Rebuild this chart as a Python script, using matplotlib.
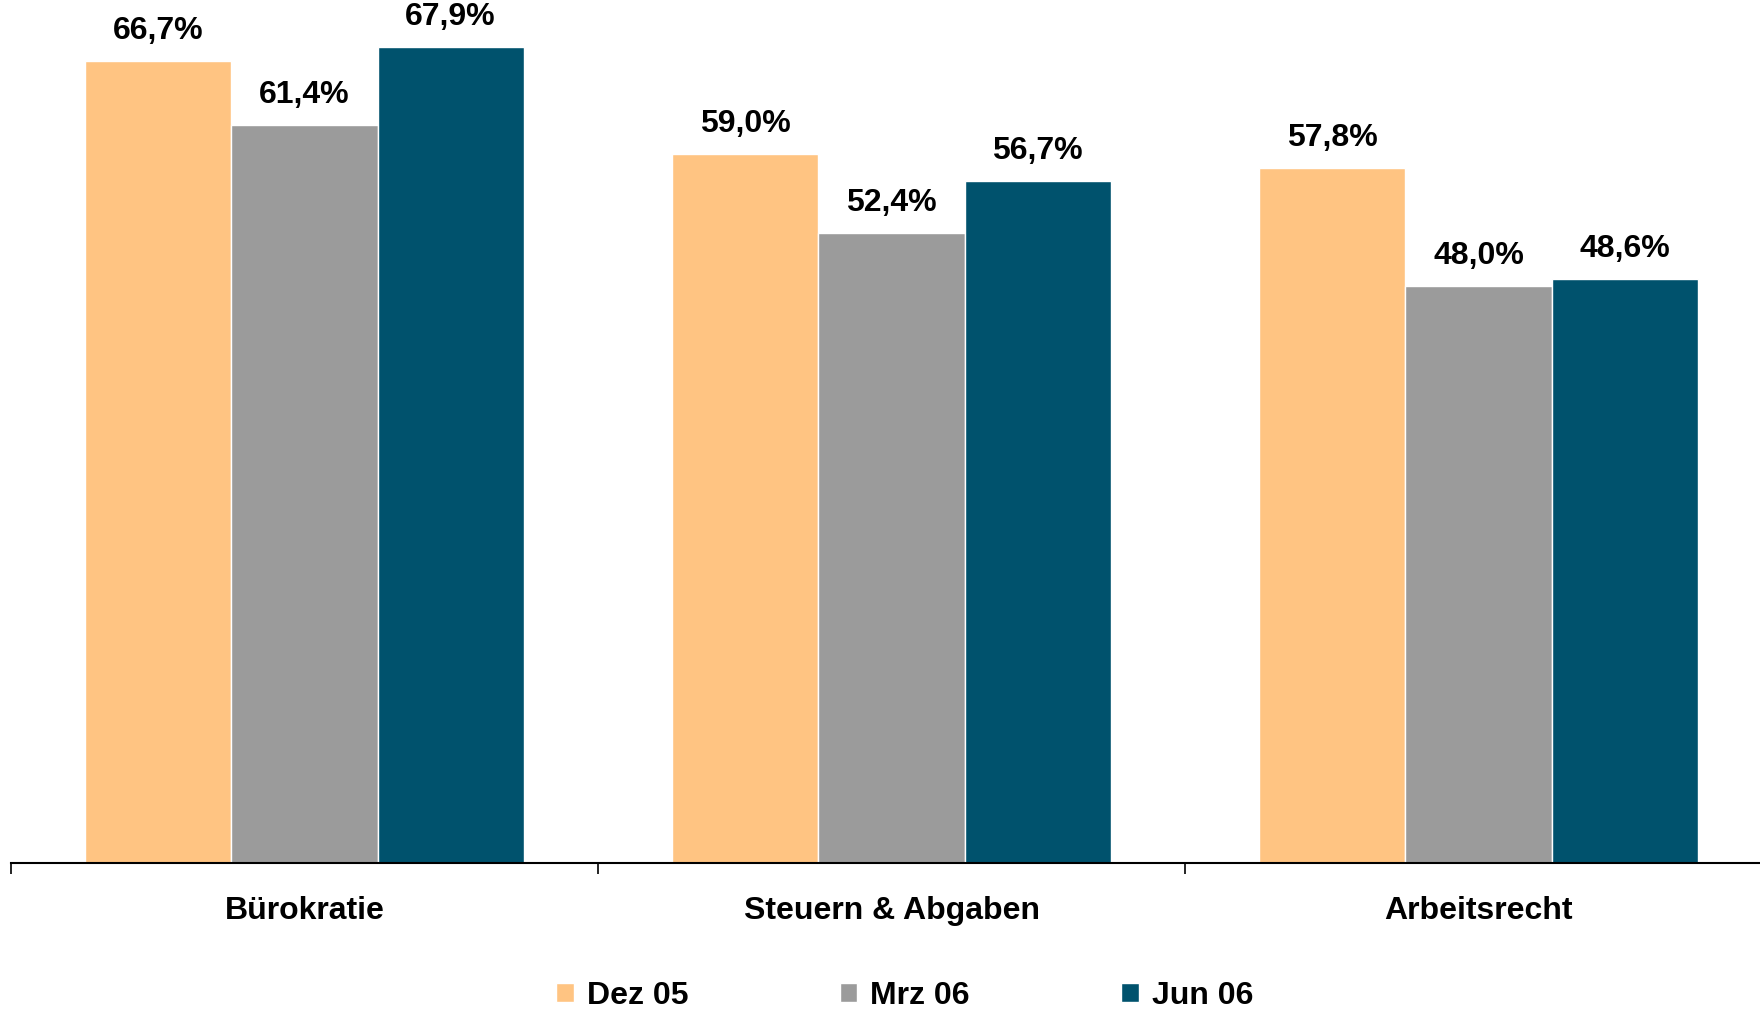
import matplotlib
matplotlib.use("Agg")
import matplotlib.pyplot as plt
import numpy as np

plt.rcParams["font.family"] = ["Liberation Sans", "DejaVu Sans"]
plt.rcParams["font.weight"] = "bold"

categories = ["Bürokratie", "Steuern & Abgaben", "Arbeitsrecht"]
series = ["Dez 05", "Mrz 06", "Jun 06"]
dez05 = [66.7, 59.0, 57.8]
mrz06 = [61.4, 52.4, 48.0]
jun06 = [67.9, 56.7, 48.6]
colors = ["#FFC482", "#9B9B9B", "#00526D"]

fig = plt.figure(figsize=(17.6, 10.1), dpi=100)
ax = fig.add_axes([11 / 1760, 147 / 1010, 1761 / 1760, 863 / 1010])

x = np.arange(len(categories)) + 0.5
w = 0.249
bars = []
for i, (vals, lab, col) in enumerate(zip([dez05, mrz06, jun06], series, colors)):
    b = ax.bar(x + (i - 1) * w, vals, w, color=col, edgecolor="white",
               linewidth=1, label=lab)
    bars.append(b)
    for rect, v in zip(b, vals):
        ax.annotate(f"{v:.1f}%".replace(".", ","),
                    (rect.get_x() + rect.get_width() / 2, v),
                    xytext=(0, 11), textcoords="offset points",
                    ha="center", va="bottom", fontsize=23, fontweight="bold")

ax.set_xlim(0, 3)
ax.set_ylim(0, 71.8)
ax.set_yticks([])
for s in ["left", "right", "top"]:
    ax.spines[s].set_visible(False)
ax.spines["bottom"].set_linewidth(1.5)

ax.set_xticks(x)
ax.set_xticklabels(categories, fontsize=23, fontweight="bold")
ax.tick_params(axis="x", which="major", length=0, pad=24)
ax.set_xticks([0, 1, 2, 3], minor=True)
ax.tick_params(axis="x", which="minor", length=8, width=1.2, direction="out")

leg = fig.legend(handles=bars, labels=series, loc="center",
                 bbox_to_anchor=(0.514, 14 / 1010), ncol=3, frameon=False,
                 fontsize=23, handlelength=0.55, handleheight=0.55,
                 handletextpad=0.4, columnspacing=4.75)
for t in leg.get_texts():
    t.set_fontweight("bold")

fig.savefig("out.png", dpi=100)
